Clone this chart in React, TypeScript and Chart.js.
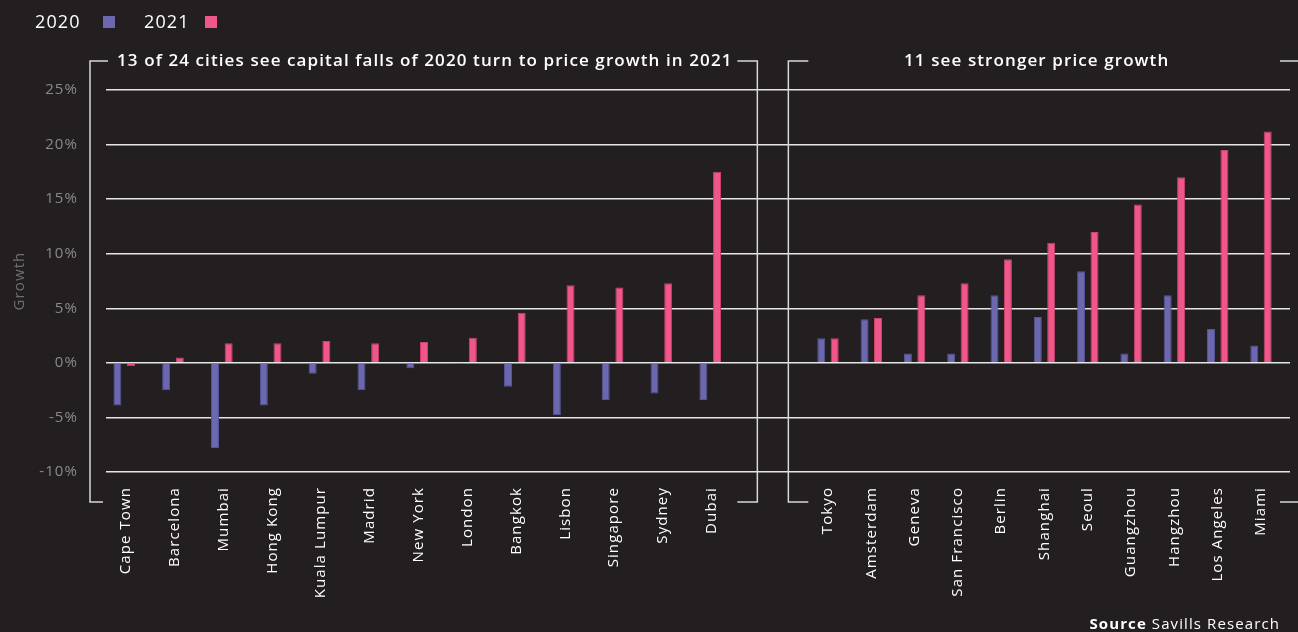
import React, { useEffect, useRef } from "react";
import { Chart, registerables } from "chart.js";

Chart.register(...registerables);

const leftCities = ["Cape Town", "Barcelona", "Mumbai", "Hong Kong", "Kuala Lumpur", "Madrid", "New York", "London", "Bangkok", "Lisbon", "Singapore", "Sydney", "Dubai"];
const left2020 = [-3.9, -2.5, -7.8, -3.9, -1.0, -2.5, -0.5, -0.1, -2.2, -4.8, -3.4, -2.8, -3.4];
const left2021 = [-0.3, 0.5, 1.8, 1.8, 2.0, 1.8, 1.9, 2.3, 4.6, 7.1, 6.9, 7.3, 17.5];

const rightCities = ["Tokyo", "Amsterdam", "Geneva", "San Francisco", "Berlin", "Shanghai", "Seoul", "Guangzhou", "Hangzhou", "Los Angeles", "Miami"];
const right2020 = [2.25, 4.0, 0.85, 0.85, 6.2, 4.2, 8.4, 0.85, 6.2, 3.1, 1.6];
const right2021 = [2.25, 4.1, 6.2, 7.3, 9.5, 11.0, 12.0, 14.5, 17.0, 19.5, 21.2];

const yTicks = [-10, -5, 0, 5, 10, 15, 20, 25];
const seriesNames = ["2020", "2021"];
const titleLeft = "13 of 24 cities see capital falls of 2020 turn to price growth in 2021";
const titleRight = "11 see stronger price growth";

const C2020 = "#6b68b0";
const C2021 = "#f0568a";
const BG = "#231f20";
const FONT = "'Open Sans', sans-serif";
const SPACING = "1.1px";

const spacingPlugin = {
  id: "spacing",
  beforeUpdate(chart: any) { chart.ctx.letterSpacing = SPACING; },
  beforeDraw(chart: any) { chart.ctx.letterSpacing = SPACING; },
};

const annotations = {
  id: "annotations",
  afterDraw(chart: any) {
    const ctx = chart.ctx;
    const ca = chart.chartArea;
    const x2 = chart.scales.x2;
    ctx.save();
    ctx.letterSpacing = SPACING;
    // legend
    ctx.textBaseline = "middle";
    ctx.textAlign = "left";
    ctx.font = `400 18px ${FONT}`;
    ctx.fillStyle = "#ffffff";
    ctx.fillText(seriesNames[0], 35, 23);
    ctx.fillStyle = C2020;
    ctx.fillRect(103, 16, 12, 12);
    ctx.fillStyle = "#ffffff";
    ctx.fillText(seriesNames[1], 144, 23);
    ctx.fillStyle = C2021;
    ctx.fillRect(205, 16, 12, 12);

    // brackets
    const top = 61;
    const bot = ca.bottom + 30;
    const L1 = ca.left - 16;
    const R1 = x2.left - 49;
    const L2 = x2.left - 18;
    const R2 = ca.right + 9;
    ctx.strokeStyle = "#d8d8d8";
    ctx.lineWidth = 1.5;
    ctx.beginPath();
    ctx.moveTo(L1 + 18, top); ctx.lineTo(L1, top); ctx.lineTo(L1, bot); ctx.lineTo(L1 + 13, bot);
    ctx.moveTo(R1 - 20, top); ctx.lineTo(R1, top); ctx.lineTo(R1, bot); ctx.lineTo(R1 - 20, bot);
    ctx.moveTo(L2 + 20, top); ctx.lineTo(L2, top); ctx.lineTo(L2, bot); ctx.lineTo(L2 + 20, bot);
    ctx.moveTo(R2 - 19, top); ctx.lineTo(R2, top); ctx.lineTo(R2, bot); ctx.lineTo(R2 - 19, bot);
    ctx.stroke();

    // titles
    ctx.fillStyle = "#ffffff";
    ctx.font = `600 17px ${FONT}`;
    ctx.textAlign = "left";
    ctx.fillText(titleLeft, L1 + 27, top);
    ctx.textAlign = "center";
    ctx.fillText(titleRight, (L2 + R2) / 2 - 7, top);

    // source
    ctx.textAlign = "right";
    ctx.textBaseline = "alphabetic";
    ctx.font = `400 15px ${FONT}`;
    const rest = " Savills Research";
    const restW = ctx.measureText(rest).width;
    ctx.fillStyle = "#ffffff";
    ctx.fillText(rest, 1280, 629);
    ctx.font = `700 15px ${FONT}`;
    ctx.fillText("Source", 1280 - restW, 629);
    ctx.restore();
  },
};

const xCommon = {
  type: "category" as const,
  position: "bottom" as const,
  stack: "cities",
  stacked: true,
  offset: true,
  grid: { display: false, drawTicks: false },
  border: { display: false },
  afterFit: (s: any) => { s.height = 160; s.paddingLeft = 0; s.paddingRight = 0; },
};

const spacer = (w: number) => ({ ...xCommon, labels: [""], stackWeight: w, ticks: { display: false } });

const tickFont = { family: FONT, size: 15, weight: "500" };

export default function App() {
  const ref = useRef<HTMLCanvasElement>(null);
  useEffect(() => {
    if (!ref.current) return;
    const chart = new Chart(ref.current, {
      type: "bar",
      data: {
        datasets: [
          { label: seriesNames[0], data: left2020, xAxisID: "x", stack: "a", backgroundColor: C2020, borderColor: "#57559a", borderWidth: 1, categoryPercentage: 1.12, barPercentage: 0.584 },
          { label: seriesNames[1], data: left2021, xAxisID: "x", stack: "b", backgroundColor: C2021, borderColor: "#c9436f", borderWidth: 1, categoryPercentage: 1.12, barPercentage: 0.584 },
          { label: seriesNames[0], data: right2020, xAxisID: "x2", stack: "a", backgroundColor: C2020, borderColor: "#57559a", borderWidth: 1, categoryPercentage: 1.238, barPercentage: 0.597 },
          { label: seriesNames[1], data: right2021, xAxisID: "x2", stack: "b", backgroundColor: C2021, borderColor: "#c9436f", borderWidth: 1, categoryPercentage: 1.238, barPercentage: 0.597 },
        ] as any,
      },
      options: {
        responsive: false,
        animation: false,
        layout: { padding: { left: 8, top: 90, right: 8, bottom: 0 } },
        plugins: { legend: { display: false }, tooltip: { enabled: false } },
        scales: {
          xHead: spacer(7.4),
          x: {
            ...xCommon,
            labels: leftCities,
            stackWeight: 634.9,
            ticks: { color: "#ffffff", font: tickFont, maxRotation: 90, minRotation: 90, padding: 15, autoSkip: false, labelOffset: -12 },
          },
          xGap: spacer(58.05),
          x2: {
            ...xCommon,
            labels: rightCities,
            stackWeight: 476.3,
            ticks: { color: "#ffffff", font: tickFont, maxRotation: 90, minRotation: 90, padding: 15, autoSkip: false },
          },
          xTail: spacer(7.35),
          y: {
            stacked: true,
            min: yTicks[0],
            max: yTicks[yTicks.length - 1],
            afterBuildTicks: (s: any) => { s.ticks = yTicks.map((v) => ({ value: v })); },
            afterFit: (s: any) => { s.width = 98; },
            grid: { color: "#e6e6e6", lineWidth: 1.5, drawTicks: false },
            border: { display: false },
            ticks: { color: "#8a8a8a", font: { family: FONT, size: 15 }, padding: 28, callback: (v: any) => `${v}%` },
            title: { display: true, text: "Growth", color: "#6f6f6f", font: { family: FONT, size: 15 }, padding: { top: 3, bottom: 0 } },
          },
        },
      } as any,
      plugins: [spacingPlugin, annotations],
    });
    return () => chart.destroy();
  }, []);
  return (
    <div style={{ position: "fixed", left: 0, top: 0, width: 1298, height: 632, background: BG }}>
      <canvas ref={ref} width={1298} height={632} style={{ display: "block" }} />
    </div>
  );
}
